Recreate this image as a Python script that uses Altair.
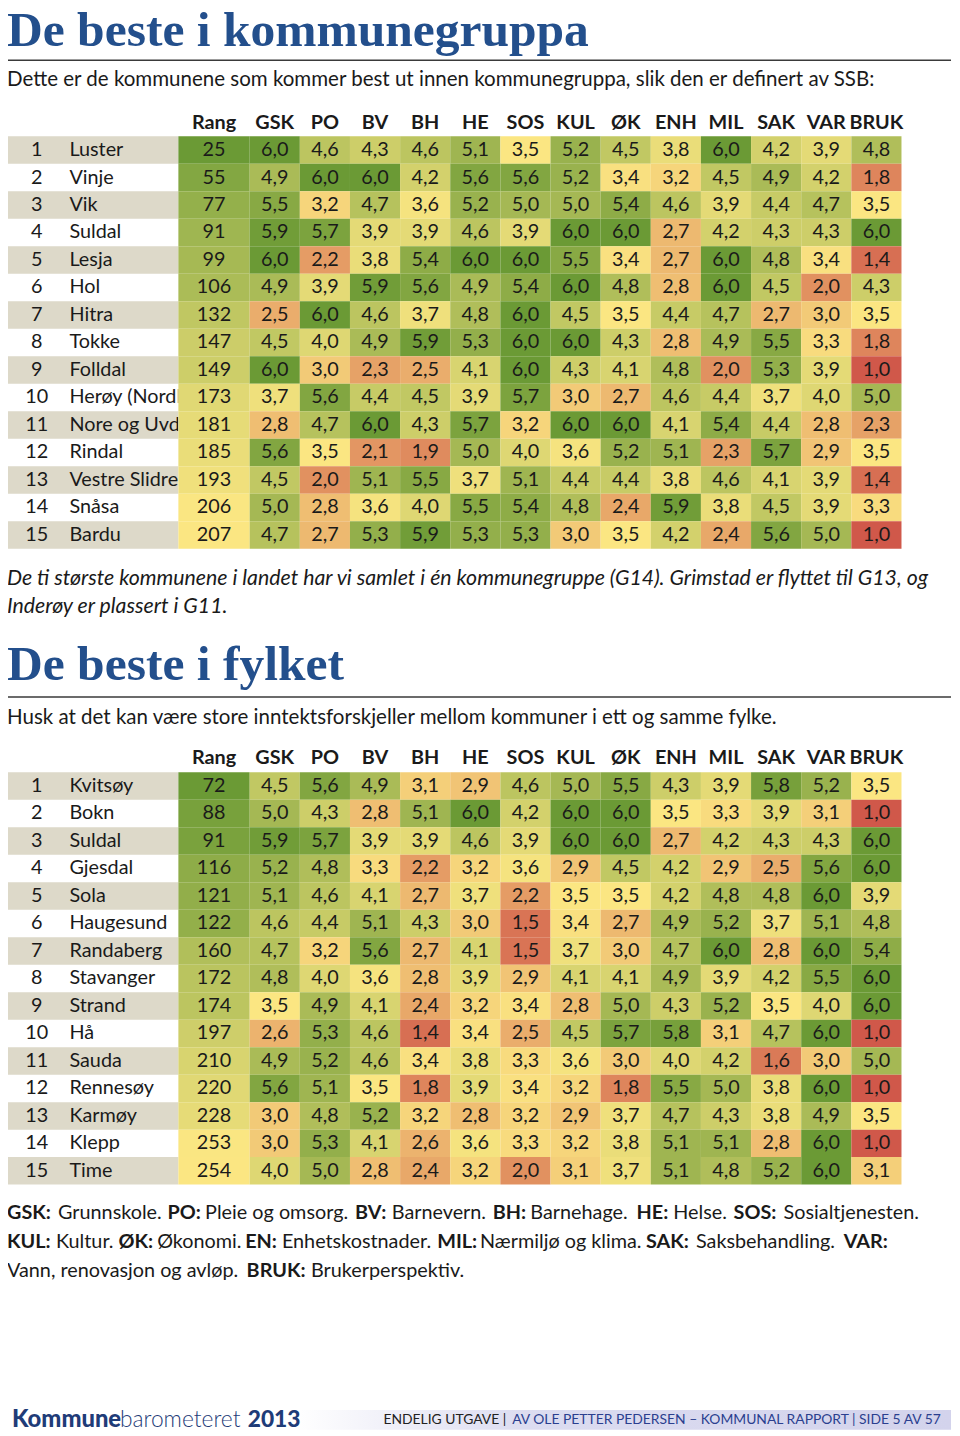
import altair as alt
import pandas as pd

# ---------------- data ----------------
COLS = ["GSK", "PO", "BV", "BH", "HE", "SOS", "KUL", "ØK", "ENH", "MIL", "SAK", "VAR", "BRUK"]

names1 = ["Luster", "Vinje", "Vik", "Suldal", "Lesja", "Hol", "Hitra", "Tokke", "Folldal",
          "Herøy (Nordland)", "Nore og Uvdal", "Rindal", "Vestre Slidre", "Snåsa", "Bardu"]
rang1 = [25, 55, 77, 91, 99, 106, 132, 147, 149, 173, 181, 185, 193, 206, 207]
vals1 = [
    [6.0, 4.6, 4.3, 4.6, 5.1, 3.5, 5.2, 4.5, 3.8, 6.0, 4.2, 3.9, 4.8],
    [4.9, 6.0, 6.0, 4.2, 5.6, 5.6, 5.2, 3.4, 3.2, 4.5, 4.9, 4.2, 1.8],
    [5.5, 3.2, 4.7, 3.6, 5.2, 5.0, 5.0, 5.4, 4.6, 3.9, 4.4, 4.7, 3.5],
    [5.9, 5.7, 3.9, 3.9, 4.6, 3.9, 6.0, 6.0, 2.7, 4.2, 4.3, 4.3, 6.0],
    [6.0, 2.2, 3.8, 5.4, 6.0, 6.0, 5.5, 3.4, 2.7, 6.0, 4.8, 3.4, 1.4],
    [4.9, 3.9, 5.9, 5.6, 4.9, 5.4, 6.0, 4.8, 2.8, 6.0, 4.5, 2.0, 4.3],
    [2.5, 6.0, 4.6, 3.7, 4.8, 6.0, 4.5, 3.5, 4.4, 4.7, 2.7, 3.0, 3.5],
    [4.5, 4.0, 4.9, 5.9, 5.3, 6.0, 6.0, 4.3, 2.8, 4.9, 5.5, 3.3, 1.8],
    [6.0, 3.0, 2.3, 2.5, 4.1, 6.0, 4.3, 4.1, 4.8, 2.0, 5.3, 3.9, 1.0],
    [3.7, 5.6, 4.4, 4.5, 3.9, 5.7, 3.0, 2.7, 4.6, 4.4, 3.7, 4.0, 5.0],
    [2.8, 4.7, 6.0, 4.3, 5.7, 3.2, 6.0, 6.0, 4.1, 5.4, 4.4, 2.8, 2.3],
    [5.6, 3.5, 2.1, 1.9, 5.0, 4.0, 3.6, 5.2, 5.1, 2.3, 5.7, 2.9, 3.5],
    [4.5, 2.0, 5.1, 5.5, 3.7, 5.1, 4.4, 4.4, 3.8, 4.6, 4.1, 3.9, 1.4],
    [5.0, 2.8, 3.6, 4.0, 5.5, 5.4, 4.8, 2.4, 5.9, 3.8, 4.5, 3.9, 3.3],
    [4.7, 2.7, 5.3, 5.9, 5.3, 5.3, 3.0, 3.5, 4.2, 2.4, 5.6, 5.0, 1.0],
]

names2 = ["Kvitsøy", "Bokn", "Suldal", "Gjesdal", "Sola", "Haugesund", "Randaberg", "Stavanger",
          "Strand", "Hå", "Sauda", "Rennesøy", "Karmøy", "Klepp", "Time"]
rang2 = [72, 88, 91, 116, 121, 122, 160, 172, 174, 197, 210, 220, 228, 253, 254]
vals2 = [
    [4.5, 5.6, 4.9, 3.1, 2.9, 4.6, 5.0, 5.5, 4.3, 3.9, 5.8, 5.2, 3.5],
    [5.0, 4.3, 2.8, 5.1, 6.0, 4.2, 6.0, 6.0, 3.5, 3.3, 3.9, 3.1, 1.0],
    [5.9, 5.7, 3.9, 3.9, 4.6, 3.9, 6.0, 6.0, 2.7, 4.2, 4.3, 4.3, 6.0],
    [5.2, 4.8, 3.3, 2.2, 3.2, 3.6, 2.9, 4.5, 4.2, 2.9, 2.5, 5.6, 6.0],
    [5.1, 4.6, 4.1, 2.7, 3.7, 2.2, 3.5, 3.5, 4.2, 4.8, 4.8, 6.0, 3.9],
    [4.6, 4.4, 5.1, 4.3, 3.0, 1.5, 3.4, 2.7, 4.9, 5.2, 3.7, 5.1, 4.8],
    [4.7, 3.2, 5.6, 2.7, 4.1, 1.5, 3.7, 3.0, 4.7, 6.0, 2.8, 6.0, 5.4],
    [4.8, 4.0, 3.6, 2.8, 3.9, 2.9, 4.1, 4.1, 4.9, 3.9, 4.2, 5.5, 6.0],
    [3.5, 4.9, 4.1, 2.4, 3.2, 3.4, 2.8, 5.0, 4.3, 5.2, 3.5, 4.0, 6.0],
    [2.6, 5.3, 4.6, 1.4, 3.4, 2.5, 4.5, 5.7, 5.8, 3.1, 4.7, 6.0, 1.0],
    [4.9, 5.2, 4.6, 3.4, 3.8, 3.3, 3.6, 3.0, 4.0, 4.2, 1.6, 3.0, 5.0],
    [5.6, 5.1, 3.5, 1.8, 3.9, 3.4, 3.2, 1.8, 5.5, 5.0, 3.8, 6.0, 1.0],
    [3.0, 4.8, 5.2, 3.2, 2.8, 3.2, 2.9, 3.7, 4.7, 4.3, 3.8, 4.9, 3.5],
    [3.0, 5.3, 4.1, 2.6, 3.6, 3.3, 3.2, 3.8, 5.1, 5.1, 2.8, 6.0, 1.0],
    [4.0, 5.0, 2.8, 2.4, 3.2, 2.0, 3.1, 3.7, 5.1, 4.8, 5.2, 6.0, 3.1],
]

title1 = "De beste i kommunegruppa"
sub1 = "Dette er de kommunene som kommer best ut innen kommunegruppa, slik den er definert av SSB:"
note1 = ["De ti største kommunene i landet har vi samlet i én kommunegruppe (G14). Grimstad er flyttet til G13, og",
         "Inderøy er plassert i G11."]
title2 = "De beste i fylket"
sub2 = "Husk at det kan være store inntektsforskjeller mellom kommuner i ett og samme fylke."

legend_lines = [
    [("GSK:", True), ("Grunnskole.", False), ("PO:", True), ("Pleie og omsorg.", False), ("BV:", True),
     ("Barnevern.", False), ("BH:", True), ("Barnehage.", False), ("HE:", True), ("Helse.", False),
     ("SOS:", True), ("Sosialtjenesten.", False)],
    [("KUL:", True), ("Kultur.", False), ("ØK:", True), ("Økonomi.", False), ("EN:", True),
     ("Enhetskostnader.", False), ("MIL:", True), ("Nærmiljø og klima.", False), ("SAK:", True),
     ("Saksbehandling.", False), ("VAR:", True)],
    [("Vann, renovasjon og avløp.", False), ("BRUK:", True), ("Brukerperspektiv.", False)],
]

# ---------------- style ----------------
FONT = "Lato"
TXT = "#1a1a1a"
BLUE = "#234f8c"
BAND = "#ddd9c9"
RED, YEL, GRN = "#d0584a", "#fbe682", "#6b9a35"
ROW_H = 27.75
ROWS = ["hdr"] + [str(i) for i in range(1, 16)]
TH = ROW_H * 16
W_LAB, W_RANG, W_VAL = 173, 72, 658
FULL_W = 953
LEG_SIZE = 20

one = pd.DataFrame({"k": [0]})

# rough relative glyph widths, used only to chain the mixed bold/regular legend pieces
_W = {" ": 278, ":": 278, ".": 278, ",": 278, "a": 556, "b": 556, "c": 500, "d": 556, "e": 556,
      "f": 278, "g": 556, "h": 556, "i": 222, "j": 222, "k": 500, "l": 222, "m": 833, "n": 556,
      "o": 556, "p": 556, "r": 333, "s": 500, "t": 278, "u": 556, "v": 500, "y": 500, "æ": 889,
      "ø": 611, "å": 556, "A": 722, "B": 722, "E": 667, "G": 778, "H": 722, "I": 278, "K": 722,
      "L": 611, "M": 833, "N": 722, "O": 778, "P": 667, "R": 722, "S": 667, "U": 722, "V": 667,
      "Ø": 778, "D": 722}
_CAL = 838 / (sum(_W.get(ch, 556) for ch in sub1) / 1000 * 20)


def est_w(s, size, bold):
    w = sum(_W.get(ch, 556) for ch in s) / 1000 * size * _CAL
    return w * (0.96 if bold else 1.0)


def txt(s, x, y, size=20, weight="normal", style="normal", color=TXT, font=FONT,
        align="left", baseline="middle"):
    return alt.Chart(one).mark_text(
        text=s, align=align, baseline=baseline, fontSize=size, fontWeight=weight,
        fontStyle=style, color=color, font=font
    ).encode(x=alt.value(x), y=alt.value(y))


def hrule(y):
    return alt.Chart(one).mark_rule(color="#3a3a3a", strokeWidth=1.5).encode(
        x=alt.value(0), x2=alt.value(FULL_W), y=alt.value(y))


def fmt(v):
    return f"{v:.1f}".replace(".", ",")


def table(names, rang, vals):
    rows = [str(i + 1) for i in range(len(names))]
    lab_df = pd.DataFrame({"row": rows, "name": names, "rang": rang,
                           "odd": [i % 2 == 0 for i in range(len(names))]})
    long = []
    for r, row in zip(rows, vals):
        for c, v in zip(COLS, row):
            long.append({"row": r, "col": c, "v": v, "lab": fmt(v)})
    df = pd.DataFrame(long)

    yenc = alt.Y("row:N", scale=alt.Scale(domain=ROWS, paddingInner=0, paddingOuter=0), axis=None)

    band = alt.Chart(lab_df).transform_filter("datum.odd").mark_rect(color=BAND).encode(
        x=alt.value(0), x2=alt.value(W_LAB), y=yenc)
    num = alt.Chart(lab_df).mark_text(align="center", baseline="middle", fontSize=20,
                                       font=FONT, color=TXT).encode(
        x=alt.value(30), y=yenc, text="row:N")
    nm = alt.Chart(lab_df).mark_text(align="left", baseline="middle", fontSize=20,
                                      font=FONT, color=TXT, clip=True).encode(
        x=alt.value(63), y=yenc, text="name:N")
    labels = alt.layer(band, num, nm).properties(width=W_LAB, height=TH)

    rscale = alt.Scale(domain=[min(rang), max(rang)], range=[GRN, YEL], interpolate="rgb")
    rrect = alt.Chart(lab_df).mark_rect().encode(
        x=alt.value(0), x2=alt.value(W_RANG), y=yenc,
        color=alt.Color("rang:Q", scale=rscale, legend=None))
    rtext = alt.Chart(lab_df).mark_text(align="center", baseline="middle", fontSize=20,
                                         font=FONT, color=TXT).encode(
        x=alt.value(W_RANG / 2), y=yenc, text="rang:Q")
    rhdr = alt.Chart(pd.DataFrame({"row": ["hdr"], "t": ["Rang"]})).mark_text(
        align="center", baseline="middle", fontSize=20, font=FONT, fontWeight="bold",
        color=TXT).encode(x=alt.value(W_RANG / 2), y=yenc, text="t:N")
    rangc = alt.layer(rrect, rtext, rhdr).properties(width=W_RANG, height=TH)

    xenc = alt.X("col:N", scale=alt.Scale(domain=COLS, paddingInner=0, paddingOuter=0),
                 axis=None, sort=COLS)
    vscale = alt.Scale(domain=[1, 3.5, 6], range=[RED, YEL, GRN], interpolate="rgb")
    vrect = alt.Chart(df).mark_rect().encode(
        x=xenc, y=yenc, color=alt.Color("v:Q", scale=vscale, legend=None))
    vtext = alt.Chart(df).mark_text(align="center", baseline="middle", fontSize=20,
                                     font=FONT, color=TXT).encode(x=xenc, y=yenc, text="lab:N")
    vhdr = alt.Chart(pd.DataFrame({"col": COLS, "row": ["hdr"] * len(COLS)})).mark_text(
        align="center", baseline="middle", fontSize=20, font=FONT, fontWeight="bold",
        color=TXT).encode(x=xenc, y=yenc, text="col:N")
    valc = alt.layer(vrect, vtext, vhdr).properties(width=W_VAL, height=TH)

    return alt.hconcat(labels, rangc, valc, spacing=0).resolve_scale(
        color="independent", x="independent", y="independent")


# ---------------- blocks ----------------
head1 = alt.layer(
    txt(title1, 0, 34, size=50, weight="bold", color=BLUE, font="Liberation Serif",
        baseline="alphabetic"),
    hrule(48),
    txt(sub1, 0, 68, size=20.7),
).properties(width=FULL_W, height=96.5)

mid = alt.layer(
    txt(note1[0], 0, 30.5, size=21.5, style="italic"),
    txt(note1[1], 0, 58.5, size=21.5, style="italic"),
    txt(title2, 0, 133, size=50, weight="bold", color=BLUE, font="Liberation Serif",
        baseline="alphabetic"),
    hrule(149.7),
    txt(sub2, 0, 170.5, size=20.7),
).properties(width=FULL_W, height=197.2)

leg_layers = []
for li, segs in enumerate(legend_lines):
    yy = 29 + li * 29
    x = 0.0
    for s, bold in segs:
        leg_layers.append(txt(s, round(x, 1), yy, size=LEG_SIZE,
                              weight="bold" if bold else "normal"))
        x += est_w(s, LEG_SIZE, bold) + 6

grad = alt.Gradient(gradient="linear",
                    stops=[alt.GradientStop(color="#ffffff", offset=0),
                           alt.GradientStop(color="#dcdcf0", offset=0.35),
                           alt.GradientStop(color="#d3d3ec", offset=1)],
                    x1=0, x2=1, y1=0, y2=0)
bar = alt.Chart(one).mark_rect(fill=grad).encode(
    x=alt.value(290), x2=alt.value(FULL_W), y=alt.value(227.5), y2=alt.value(247.5))
foot = [
    bar,
    txt("Kommune", 5, 237.5, size=24, weight=900, color="#1f3c78"),
    txt("barometeret", 114, 237.5, size=23, weight=300, color="#1f3c78"),
    txt("2013", 243, 237.5, size=23, weight=900, color="#1f3c78"),
    txt("ENDELIG UTGAVE |", 380, 237.5, size=14, color="#222222"),
    txt("AV OLE PETTER PEDERSEN – KOMMUNAL RAPPORT | SIDE 5 AV 57", 510, 237.5, size=14,
        color="#2b3f8f"),
]
bottom = alt.layer(*leg_layers, *foot).properties(width=FULL_W, height=250)

chart = alt.vconcat(
    head1,
    table(names1, rang1, vals1),
    mid,
    table(names2, rang2, vals2),
    bottom,
    spacing=0,
).resolve_scale(color="independent", x="independent", y="independent").properties(
    padding={"left": -2, "top": -8, "right": 0, "bottom": 0}, background="white"
).configure_view(stroke=None)

chart.save("out.html", embed_options={"renderer": "svg", "actions": False})
